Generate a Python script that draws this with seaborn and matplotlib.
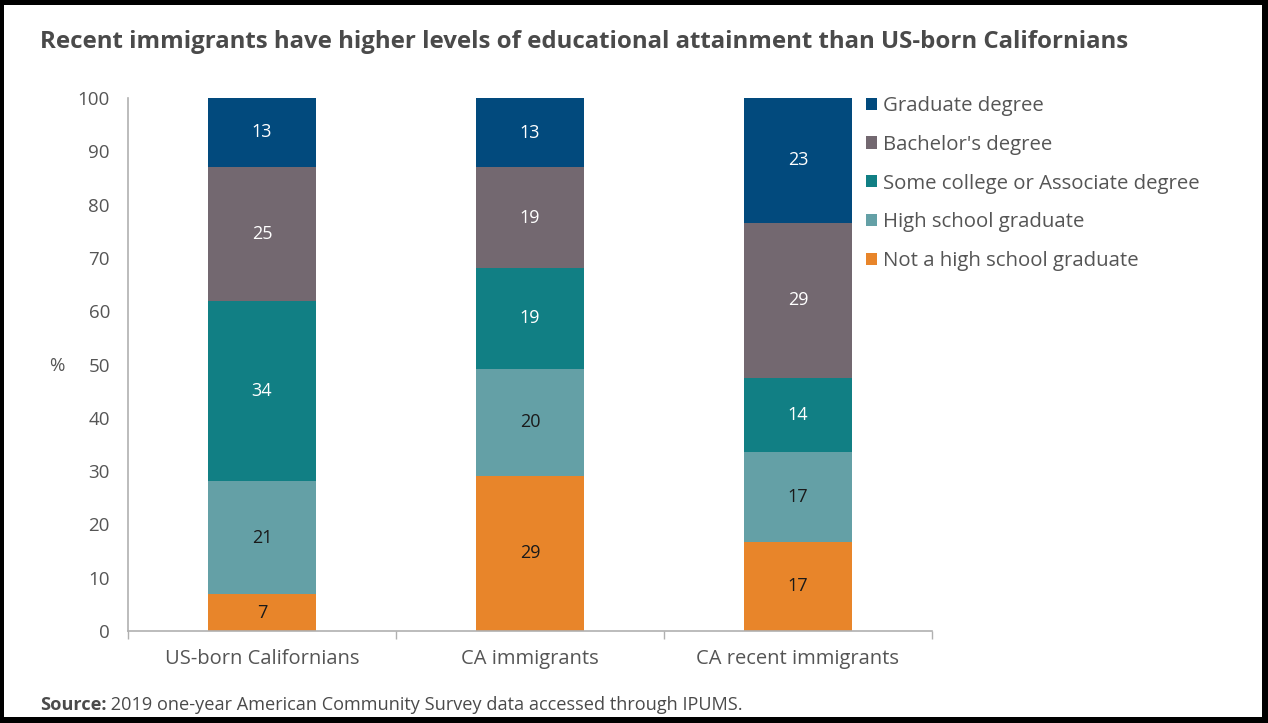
import matplotlib
matplotlib.use("Agg")
import matplotlib.pyplot as plt
import seaborn as sns
import pandas as pd
from matplotlib.patches import Patch, Rectangle

# ---- data ----
groups = ["US-born Californians", "CA immigrants", "CA recent immigrants"]
levels = ["Not a high school graduate", "High school graduate",
          "Some college or Associate degree", "Bachelor's degree", "Graduate degree"]
not_hs = [6.9, 29.1, 16.7]
hs_grad = [21.2, 20.1, 16.9]
some_college = [33.8, 18.9, 13.9]
bachelors = [25.2, 18.9, 29.1]
graduate = [12.9, 13.0, 23.4]
series = [not_hs, hs_grad, some_college, bachelors, graduate]
yticks = [0, 10, 20, 30, 40, 50, 60, 70, 80, 90, 100]

colors = ["#E8852A", "#64A0A6", "#117F84", "#736870", "#024A7D"]
label_colors = ["#1a1a1a", "#1a1a1a", "white", "white", "white"]
TXT = "#555555"

sns.set_theme(style="white")
plt.rcParams["font.family"] = ["Open Sans", "DejaVu Sans"]

W, H = 1268, 723
fig = plt.figure(figsize=(W / 100, H / 100), dpi=100)
fig.patch.set_facecolor("black")
# white card inside the black frame
fig.add_artist(Rectangle((4 / W, 6 / H), (1262 - 4) / W, (718 - 6) / H,
                         transform=fig.transFigure, facecolor="white",
                         edgecolor="none", zorder=-10))

ax = fig.add_axes([128 / W, (H - 631) / H, (932 - 128) / W, (631 - 98) / H])
ax.set_facecolor("white")

bottom = [0.0, 0.0, 0.0]
for lvl, vals, col, lc in zip(levels, series, colors, label_colors):
    df = pd.DataFrame({"group": groups, "value": vals})
    sns.barplot(data=df, x="group", y="value", order=groups, color=col,
                saturation=1, width=0.4, bottom=bottom, linewidth=0,
                errorbar=None, ax=ax)
    cont = ax.containers[-1]
    ax.bar_label(cont, labels=[f"{v:.0f}" for v in vals], label_type="center",
                 color=lc, fontsize=13)
    bottom = [b + v for b, v in zip(bottom, vals)]

ax.set_ylim(0, 100)
ax.set_xlim(-0.5, 2.5)
ax.set_yticks(yticks)
ax.set_yticklabels([str(t) for t in yticks], color=TXT, fontsize=13.5)
ax.set_xticks([-0.5, 0.5, 1.5, 2.5])
ax.set_xticklabels([])
ax.set_xticks([0, 1, 2], minor=True)
ax.set_xticklabels(groups, minor=True, color=TXT, fontsize=14.5)
ax.tick_params(axis="x", which="minor", length=0, pad=13)
ax.tick_params(axis="x", which="major", length=6, width=1, color="#b0b0b0", direction="out")
ax.tick_params(axis="y", length=6, width=1, color="#b0b0b0", direction="out", pad=7)
ax.tick_params(axis="x", which="both", bottom=True)
ax.set_xlabel("")
ax.set_ylabel("")
for s in ["top", "right"]:
    ax.spines[s].set_visible(False)
for s in ["left", "bottom"]:
    ax.spines[s].set_color("#b0b0b0")
    ax.spines[s].set_linewidth(1.2)

fig.text(57 / W, 1 - 366 / H, "%", color=TXT, fontsize=13.5, ha="center", va="center")

# legend
handles = [Patch(facecolor=c, edgecolor="none") for c in colors][::-1]
leg = fig.legend(handles, levels[::-1], loc="upper left",
                 bbox_to_anchor=(866 / W, 1 - 96 / H), frameon=False,
                 fontsize=14.7, handlelength=0.55, handleheight=0.55,
                 handletextpad=0.28, labelspacing=0.92, borderaxespad=0,
                 borderpad=0)
for t in leg.get_texts():
    t.set_color(TXT)

# title
fig.text(40 / W, 1 - 42 / H,
         "Recent immigrants have higher levels of educational attainment than US-born Californians",
         color="#4a4a4a", fontsize=17.3, fontweight="bold", ha="left", va="center")

# source
src = fig.text(40 / W, 1 - 710 / H, "Source:", color="#4a4a4a", fontsize=13.1,
               fontweight="bold", ha="left", va="baseline")
plt.annotate(" 2019 one-year American Community Survey data accessed through IPUMS.",
             xy=(1, 0), xycoords=src, va="bottom", ha="left",
             color="#4a4a4a", fontsize=13.1)

fig.savefig("out.png", dpi=100, facecolor=fig.get_facecolor())
